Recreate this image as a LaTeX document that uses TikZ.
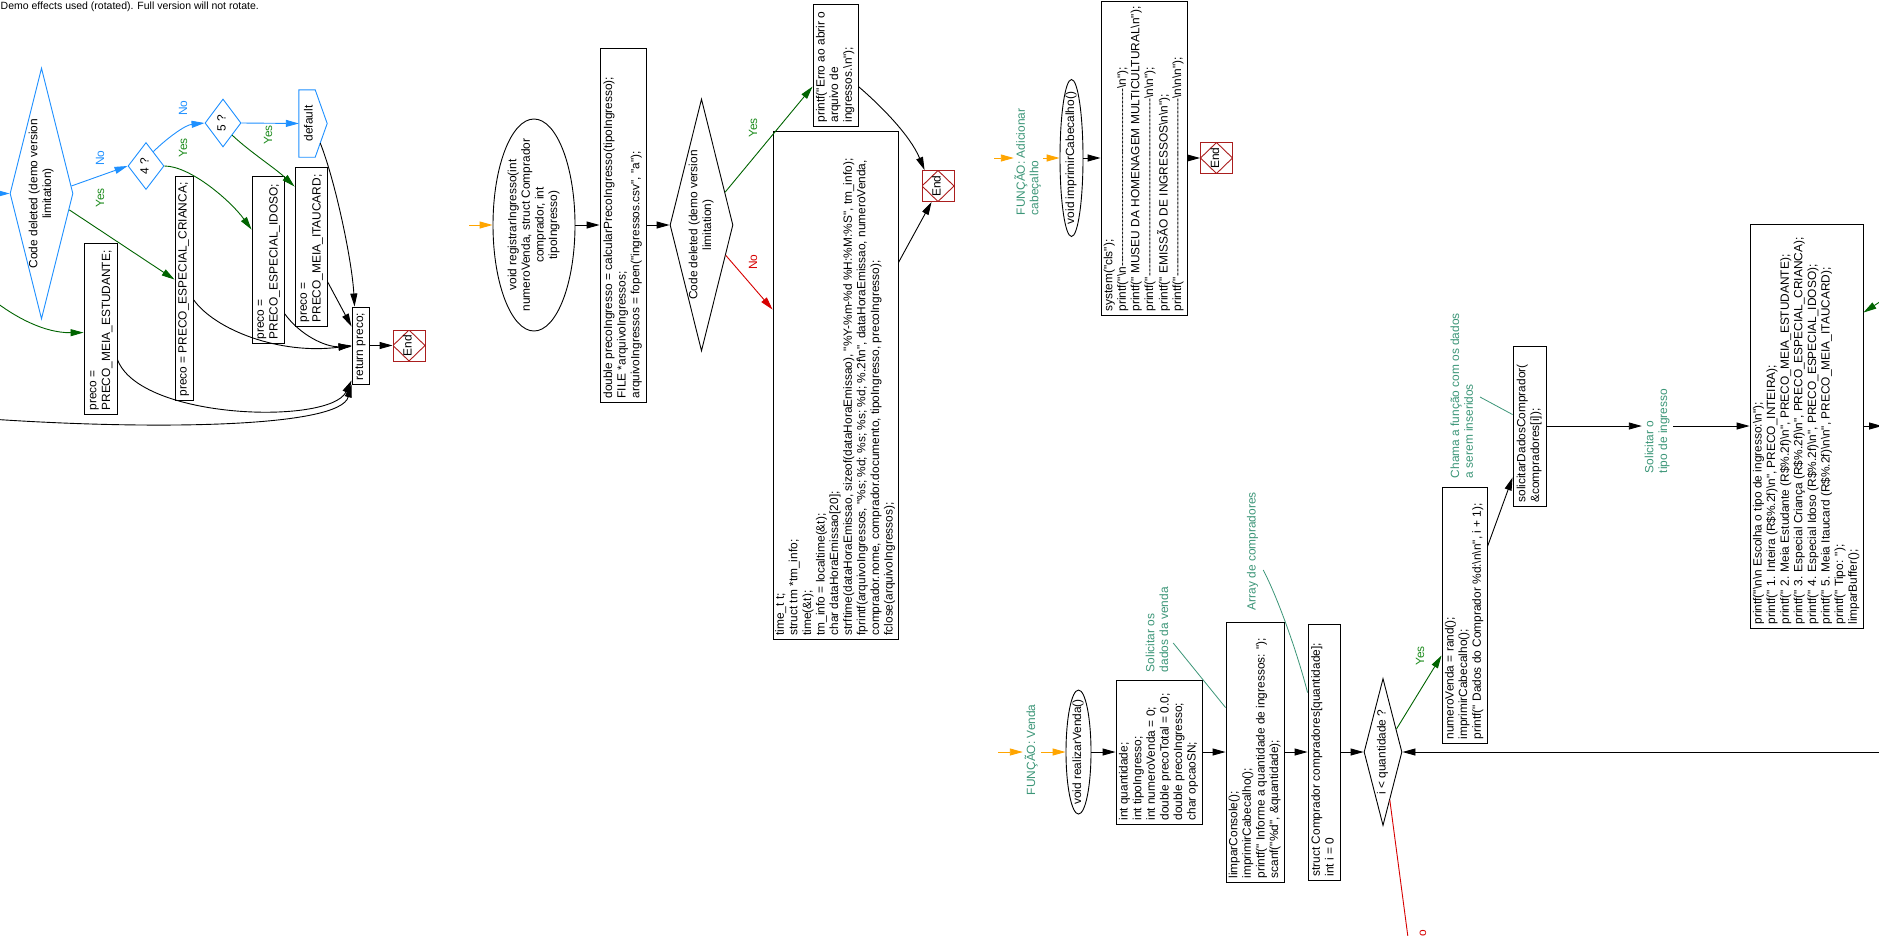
\documentclass[tikz,border=0pt]{standalone}
\usepackage{fontspec}
\usepackage{graphicx}
\newfontfamily\lsf{Liberation Sans}
\usetikzlibrary{arrows.meta,shapes.geometric,calc}

\definecolor{cblue}{RGB}{30,144,255}
\definecolor{cgreen}{RGB}{0,100,0}
\definecolor{cyes}{RGB}{30,140,30}
\definecolor{cred}{RGB}{215,0,0}
\definecolor{cend}{RGB}{170,30,30}
\definecolor{corange}{RGB}{255,165,0}
\definecolor{cnote}{RGB}{60,150,120}

% escaped pieces of C code
\newcommand\bsn{\textbackslash n}
\newcommand\hy{\mbox{-}}
\newcommand\hyv{\hy\hy\hy\hy\hy}
\newcommand\dashrun{\hyv\hyv\hyv\hyv\hyv\hyv\hyv\hyv\hyv}

% vertical (bottom-to-top) text of zero size, left aligned in a run of #1 pt
\newcommand\vtextl[2]{\makebox[0pt]{\raisebox{-.5\height}[0pt][0pt]{\rotatebox{90}{\makebox[#1pt][l]{\begin{tabular}{@{}l@{}}#2\end{tabular}}}}}}
% vertical text of zero size, lines centred
\newcommand\vtextc[1]{\makebox[0pt]{\raisebox{-.5\height}[0pt][0pt]{\rotatebox{90}{\begin{tabular}{@{}c@{}}#1\end{tabular}}}}}

% code box: name, x1, y1, x2, y2, lines
\newcommand\cdbox[6]{%
  \pgfmathsetmacro\bxX{(#2+#4)/2}%
  \pgfmathsetmacro\bxY{(#3+#5)/2}%
  \pgfmathsetmacro\bxW{#4-#2}%
  \pgfmathsetmacro\bxH{#5-#3}%
  \pgfmathsetmacro\bxT{#5-#3-7}%
  \node[cbx, minimum width=\bxW pt, minimum height=\bxH pt] (#1) at (\bxX,\bxY) {\vtextl{\bxT}{#6}};}

\tikzset{
  every node/.style={font=\lsf\fontsize{11.9}{13.6}\selectfont, inner sep=0pt},
  cbx/.style={draw, rectangle, line width=0.9pt},
  dia/.style={draw, diamond, line width=0.9pt},
  ell/.style={draw, ellipse, line width=0.9pt},
  endn/.style={draw=cend, line width=0.9pt, minimum width=32pt, minimum height=31pt,
    path picture={\draw[cend, line width=0.9pt] (path picture bounding box.north) -- (path picture bounding box.east) -- (path picture bounding box.south) -- (path picture bounding box.west) -- cycle;}},
  arr/.style={line width=0.9pt, -{Triangle[length=13pt,width=7pt]}},
  garr/.style={arr, cgreen},
  barr/.style={arr, cblue},
  rarr/.style={arr, cred},
  oarr/.style={arr, corange},
  nline/.style={line width=0.8pt, cnote},
  rline/.style={line width=0.9pt, cred},
  cmt/.style={text=cnote},
  lg/.style={text=cyes, rotate=90},
  lb/.style={text=cblue, rotate=90},
  lr/.style={text=cred, rotate=90},
}

\begin{document}
\begin{tikzpicture}[x=1pt, y=-1pt]
\useasboundingbox (0,0) rectangle (1879,935);
\fill[white] (0,0) rectangle (1879,935);

\node[font=\lsf\fontsize{10.5}{12}\selectfont, anchor=base west] (demo) at (0.5,9.5) {Demo effects used (rotated). Full version will not rotate.};

% ---------- calcularPrecoIngresso: switch on the ticket type ----------
\coordinate (inA) at (-20,193.5);
\coordinate (inE) at (-12,296);
\coordinate (inR) at (-10,419);
\node[dia, draw=cblue, minimum width=63pt, minimum height=251pt] (dA) at (41.5,193.5) {\vtextc{Code deleted (demo version\\limitation)}};
\node[dia, draw=cblue, minimum width=36pt, minimum height=47pt] (d4) at (146,166) {\vtextc{4 ?}};
\node[dia, draw=cblue, minimum width=36pt, minimum height=48pt] (d5) at (223,123) {\vtextc{5 ?}};
\node[minimum width=22pt, minimum height=67pt] (dflt) at (310,123.5) {\vtextc{default}};
\draw[cblue, line width=0.9pt] (dflt.north west) -- ([xshift=-6pt]dflt.north east) -- ([xshift=6pt]dflt.east) -- ([xshift=-6pt]dflt.south east) -- (dflt.south west) -- cycle;

\cdbox{bEst}{84}{243}{117}{414}{preco =\\PRECO\_MEIA\_ESTUDANTE;}
\cdbox{bCri}{175}{176}{193}{400}{preco = PRECO\_ESPECIAL\_CRIANCA;}
\cdbox{bIdo}{252}{176}{284}{343}{preco =\\PRECO\_ESPECIAL\_IDOSO;}
\cdbox{bIta}{295}{167}{327}{326}{preco =\\PRECO\_MEIA\_ITAUCARD;}
\cdbox{bRet}{352}{307}{369}{384}{return preco;}
\node[endn] (end1) at (409,345.5) {\vtextc{End}};

\draw[barr] (inA) -- (dA.west);
\draw[barr] ($(dA.east)!0.06!(dA.north)$) -- (d4.west);
\draw[garr] ($(dA.east)!0.13!(dA.south)$) -- ([yshift=-104pt]bCri.north west);
\draw[barr] ($(d4.east)!0.6!(d4.north)$) .. controls (166,139) and (185,125) .. (d5.west);
\draw[garr] (d4.east) .. controls (190,166) and (230,200) .. ([yshift=-54pt]bIdo.north west);
\draw[barr] (d5.east) -- (dflt.west);
\draw[garr] ($(d5.east)!0.5!(d5.south)$) .. controls (250,152) and (275,168) .. ([yshift=-20pt]bIta.north west);
\draw[garr] (inE) .. controls (15,318) and (45,333) .. ([yshift=-90pt]bEst.north west);
\draw[arr] ($([xshift=6pt]dflt.east)!0.58!([xshift=-6pt]dflt.south east)$) .. controls (335,180) and (352,260) .. ([xshift=3pt]bRet.north west);
\draw[arr] ([yshift=-115pt]bIta.north east) -- ([yshift=-20pt]bRet.north west);
\draw[arr] ([yshift=30pt]bIdo.south east) .. controls (300,335) and (325,347) .. ([yshift=-40pt]bRet.north west);
\draw[arr] ([yshift=-124pt]bCri.north east) .. controls (215,330) and (280,355) .. (bRet.west);
\draw[arr] ([yshift=-117pt]bEst.north east) .. controls (140,420) and (330,425) .. ([yshift=4pt]bRet.south west);
\draw[arr] (inR) .. controls (150,430) and (340,428) .. (bRet.south west);
\draw[arr] (bRet) -- (end1);

\node[lb] (lNo1) at (100,158) {No};
\node[lg] (lYes1) at (100,198) {Yes};
\node[lb] (lNo2) at (183,108) {No};
\node[lg] (lYes2) at (183,148) {Yes};
\node[lg] (lYes3) at (268,135) {Yes};

% ---------- registrarIngresso ----------
\coordinate (oB) at (469,225);
\node[ell, minimum width=82pt, minimum height=212pt] (eReg) at (534,225) {\vtextc{void registrarIngresso(int\\numeroVenda, struct Comprador\\comprador, int\\tipoIngresso)}};
\cdbox{bCalc}{600}{48}{646}{402}{double precoIngresso = calcularPrecoIngresso(tipoIngresso);\\FILE *arquivoIngressos;\\arquivoIngressos = fopen("ingressos.csv", "a");}
\node[dia, minimum width=63pt, minimum height=252pt] (dB) at (701.5,225) {\vtextc{Code deleted (demo version\\limitation)}};
\cdbox{bErr}{813}{4}{858}{126}{printf("Erro ao abrir o\\arquivo de\\ingressos.\bsn");}
\cdbox{bTime}{773}{131}{898}{639}{time\_t t;\\struct tm *tm\_info;\\time(\&t);\\tm\_info = localtime(\&t);\\char dataHoraEmissao[20];\\strftime(dataHoraEmissao, sizeof(dataHoraEmissao), "\%Y-\%m-\%d \%H:\%M:\%S", tm\_info);\\fprintf(arquivoIngressos, "\%s; \%d; \%s; \%s; \%d; \%.2f\bsn", dataHoraEmissao, numeroVenda,\\comprador.nome, comprador.documento, tipoIngresso, precoIngresso);\\fclose(arquivoIngressos);}
\node[endn] (end2) at (938,186) {\vtextc{End}};

\draw[oarr] (oB) -- (eReg);
\draw[arr] (eReg) -- (bCalc);
\draw[arr] (bCalc) -- (dB);
\draw[garr] ($(dB.east)!0.26!(dB.north)$) -- ([yshift=-83pt]bErr.north west);
\draw[rarr] ($(dB.east)!0.24!(dB.south)$) -- ([yshift=-179pt]bTime.north west);
\draw[arr] ([yshift=-83pt]bErr.north east) .. controls (880,105) and (910,135) .. ([xshift=3pt]end2.north west);
\draw[arr] ([yshift=-132pt]bTime.north east) -- ([xshift=10pt]end2.south west);
\node[lg] (lYes4) at (753,128) {Yes};
\node[lr] (lNo3) at (753,262) {No};

% ---------- imprimirCabecalho ----------
\coordinate (oC) at (994,158);
\node[cmt, minimum width=29pt] (cFun1) at (1028.5,161) {\vtextl{108}{FUNÇÃO: Adicionar\\cabeçalho}};
\node[ell, minimum width=23pt, minimum height=157pt] (eCab) at (1071.5,158) {\vtextc{void imprimirCabecalho()}};
\cdbox{bCab}{1101}{1}{1187}{315}{system("cls");\\printf("\bsn\dashrun\bsn");\\printf(" MUSEU DA HOMENAGEM MULTICULTURAL\bsn");\\printf("\dashrun\bsn\bsn");\\printf(" EMISSÃO DE INGRESSOS\bsn\bsn");\\printf("\dashrun\bsn\bsn\bsn");}
\node[endn] (end3) at (1216.5,158) {\vtextc{End}};

\draw[oarr] (oC) -- (oC -| cFun1.west);
\draw[oarr] (cFun1.east |- eCab.west) -- (eCab.west);
\draw[arr] (eCab) -- (bCab);
\draw[arr] (bCab) -- (end3);

% ---------- realizarVenda ----------
\coordinate (oD) at (998,752);
\node[cmt, minimum width=18pt] (cFun2) at (1032,750) {\vtextl{90}{FUNÇÃO: Venda}};
\node[ell, minimum width=25pt, minimum height=124pt] (eVen) at (1078.5,752) {\vtextc{void realizarVenda()}};
\cdbox{bVar}{1116}{680}{1202}{824}{int quantidade;\\int tipoIngresso;\\int numeroVenda = 0;\\double precoTotal = 0.0;\\double precoIngresso;\\char opcaoSN;}
\cdbox{bLim}{1226}{622}{1284}{882}{limparConsole();\\imprimirCabecalho();\\printf(" Informe a quantidade de ingressos: ");\\scanf("\%d", \&quantidade);}
\cdbox{bStr}{1308}{624}{1340}{880}{struct Comprador compradores[quantidade];\\int i = 0}
\node[dia, minimum width=38pt, minimum height=147pt] (dI) at (1383,752) {\vtextc{i < quantidade ?}};
\cdbox{bNum}{1442}{487}{1487}{743}{numeroVenda = rand();\\imprimirCabecalho();\\printf(" Dados do Comprador \%d:\bsn\bsn", i + 1);}
\cdbox{bSol}{1513}{346}{1546}{506}{solicitarDadosComprador(\\\&compradores[i]);}
\node[cmt, minimum width=31pt] (cTipo) at (1657.5,430) {\vtextl{86}{Solicitar o\\tipo de ingresso}};
\cdbox{bTipo}{1750}{224}{1863}{628}{printf("\bsn\bsn{} Escolha o tipo de ingresso:\bsn");\\printf(" 1. Inteira (R\$\%.2f)\bsn", PRECO\_INTEIRA);\\printf(" 2. Meia Estudante (R\$\%.2f)\bsn", PRECO\_MEIA\_ESTUDANTE);\\printf(" 3. Especial Criança (R\$\%.2f)\bsn", PRECO\_ESPECIAL\_CRIANCA);\\printf(" 4. Especial Idoso (R\$\%.2f)\bsn", PRECO\_ESPECIAL\_IDOSO);\\printf(" 5. Meia Itaucard (R\$\%.2f)\bsn\bsn", PRECO\_MEIA\_ITAUCARD);\\printf(" Tipo: ");\\limparBuffer();}

\node[cmt, minimum width=25pt, minimum height=85pt] (cSol) at (1158.5,629.5) {\vtextl{85}{Solicitar os\\dados da venda}};
\node[cmt, minimum width=13pt, minimum height=119pt] (cArr) at (1253,550.5) {\vtextl{119}{Array de compradores}};
\node[cmt, minimum width=27pt, minimum height=166pt] (cCha) at (1463.3,395) {\vtextl{166}{Chama a função com os dados\\a serem inseridos}};

\coordinate (rOut) at (1409,945);
\coordinate (outR) at (1882,426);
\coordinate (gIn) at (1895,292);
\coordinate (back) at (1885,752);

\draw[oarr] (oD) -- (oD -| cFun2.west);
\draw[oarr] (cFun2.east |- eVen.west) -- (eVen.west);
\draw[arr] (eVen) -- (bVar);
\draw[arr] (bVar) -- (bLim);
\draw[arr] (bLim) -- (bStr);
\draw[arr] (bStr) -- (dI);
\draw[nline] ([xshift=2pt,yshift=-13.5pt]cSol.east) -- ([yshift=-86pt]bLim.north west);
\draw[nline] ([xshift=3.5pt,yshift=-19.5pt]cArr.east) .. controls (1278,598) and (1298,655) .. ([yshift=-69pt]bStr.north west);
\draw[garr] ($(dI.east)!0.31!(dI.north)$) -- ([yshift=88pt]bNum.south west);
\draw[rline] ($(dI.east)!0.65!(dI.south)$) -- (rOut);
\draw[arr] ([yshift=-60pt]bNum.north east) -- ([yshift=29pt]bSol.south west);
\draw[nline] ([xshift=3pt,yshift=-2pt]cCha.east) -- ([yshift=-69pt]bSol.north west);
\draw[arr] (bSol.east) -- (bSol.east -| cTipo.west);
\draw[arr] (cTipo.east |- bTipo.west) -- (bTipo.west);
\draw[arr] (bTipo.east) -- (outR);
\draw[garr] (gIn) -- ([yshift=-89pt]bTipo.north east);
\draw[arr] (back) -- (dI.east);

\node[lg] (lYes5) at (1420,656) {Yes};
\node[lr] (lNo4) at (1422,937) {No};
\end{tikzpicture}
\end{document}
